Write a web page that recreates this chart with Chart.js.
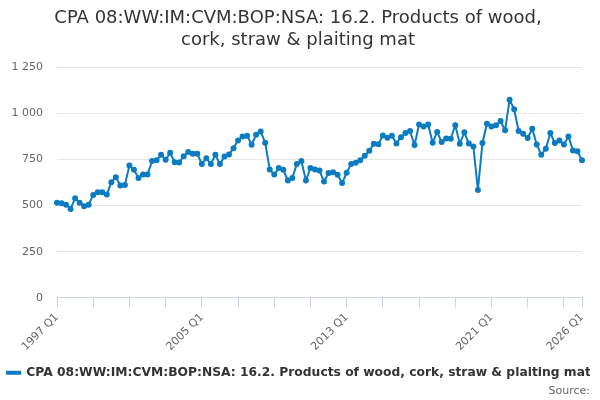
<!DOCTYPE html>
<html lang="en">
<head>
    <meta charset="UTF-8">
    <title>CPA 08 imports: products of wood</title>
    <script src="https://cdn.jsdelivr.net/npm/chart.js"></script>
    <style>
        body {
            margin: 0;
            font-family: "DejaVu Sans", sans-serif;
        }
        .chart-container {
            position: relative;
            width: 600px;
            height: 400px;
        }
    </style>
</head>
<body>
    <div class="chart-container">
        <canvas id="woodChart"></canvas>
    </div>

    <script>
        const seriesName = 'CPA 08:WW:IM:CVM:BOP:NSA: 16.2. Products of wood, cork, straw & plaiting mat';
        const titleLines = ['CPA 08:WW:IM:CVM:BOP:NSA: 16.2. Products of wood,', 'cork, straw & plaiting mat'];
        const firstYear = 1997;
        const lastYear = 2026;
        const yTicks = [0, 250, 500, 750, 1000, 1250];

        // values, one per quarter from 1997 Q1
        const values = [
            515, 512, 505, 482, 540, 515, 497, 505, 558, 572, 572, 560,
            627, 654, 609, 612, 717, 694, 650, 668, 668, 741, 745, 775,
            748, 786, 735, 734, 768, 790, 781, 781, 725, 757, 725, 775,
            725, 766, 777, 811, 853, 875, 879, 830, 884, 902, 840, 696,
            668, 703, 694, 636, 650, 726, 741, 636, 703, 696, 690, 630,
            676, 681, 667, 623, 678, 726, 732, 745, 770, 797, 835, 833,
            880, 868, 879, 837, 871, 893, 904, 828, 940, 928, 940, 841,
            899, 844, 864, 862, 936, 835, 897, 836, 820, 585, 839, 944,
            929, 935, 958, 908, 1074, 1022, 904, 889, 866, 916, 831, 775,
            808, 893, 839, 853, 831, 875, 799, 795, 745
        ];

        const labels = [];
        for (let y = firstYear; y <= lastYear; y++) {
            for (let q = 1; q <= 4; q++) {
                if (y === lastYear && q > 1) break;
                labels.push(y + ' Q' + q);
            }
        }

        const lastIdx = labels.length - 1;
        const shownLabels = ['1997 Q1', '2005 Q1', '2013 Q1', '2021 Q1', '2026 Q1'];

        function fmt(v) {
            return String(v).replace(/\B(?=(\d{3})+(?!\d))/g, ' ');
        }

        const ctx = document.getElementById('woodChart').getContext('2d');
        new Chart(ctx, {
            type: 'line',
            data: {
                labels: labels,
                datasets: [{
                    label: seriesName,
                    data: values,
                    borderColor: '#0b7cc1',
                    backgroundColor: '#0b7cc1',
                    borderWidth: 2,
                    pointRadius: 2,
                    pointHoverRadius: 3,
                    tension: 0
                }]
            },
            options: {
                responsive: true,
                maintainAspectRatio: false,
                animation: false,
                layout: { padding: { left: 6, right: 10, top: 4, bottom: 2 } },
                plugins: {
                    title: {
                        display: true,
                        text: titleLines,
                        color: '#333333',
                        font: { family: 'DejaVu Sans', size: 18, weight: 'normal', lineHeight: 1.2 },
                        padding: { top: 4, bottom: 16 }
                    },
                    subtitle: {
                        display: true,
                        position: 'bottom',
                        align: 'end',
                        text: 'Source:',
                        color: '#666666',
                        font: { family: 'DejaVu Sans', size: 11 },
                        padding: { top: -4, bottom: 0 }
                    },
                    legend: {
                        position: 'bottom',
                        labels: {
                            color: '#333333',
                            font: { family: 'DejaVu Sans', size: 12.3, weight: 'bold' },
                            boxWidth: 15,
                            boxHeight: 2,
                            padding: 3
                        }
                    },
                    tooltip: { enabled: false }
                },
                scales: {
                    x: {
                        offset: false,
                        border: { color: '#ccd6eb' },
                        grid: {
                            drawOnChartArea: false,
                            tickLength: 10,
                            color: c => (c.index % 8 === 0 || c.index === lastIdx) ? '#ccd6eb' : 'transparent'
                        },
                        ticks: {
                            autoSkip: false,
                            maxRotation: 45,
                            minRotation: 45,
                            color: '#666666',
                            font: { family: 'DejaVu Sans', size: 11 },
                            callback: function(val, i) {
                                const l = labels[i];
                                return shownLabels.includes(l) ? l : '';
                            }
                        },
                        afterFit: axis => {
                            axis.paddingLeft = 0;
                            axis.paddingRight = 18;
                            axis.height += 7;
                        }
                    },
                    y: {
                        min: 0,
                        max: 1250,
                        afterBuildTicks: axis => { axis.ticks = yTicks.map(v => ({ value: v })); },
                        afterFit: axis => { axis.width = 51; },
                        border: { display: false },
                        grid: { color: '#e6e6e6', drawTicks: false },
                        ticks: {
                            padding: 14,
                            color: '#666666',
                            font: { family: 'DejaVu Sans', size: 11 },
                            callback: v => fmt(v)
                        }
                    }
                }
            }
        });
    </script>
</body>
</html>
